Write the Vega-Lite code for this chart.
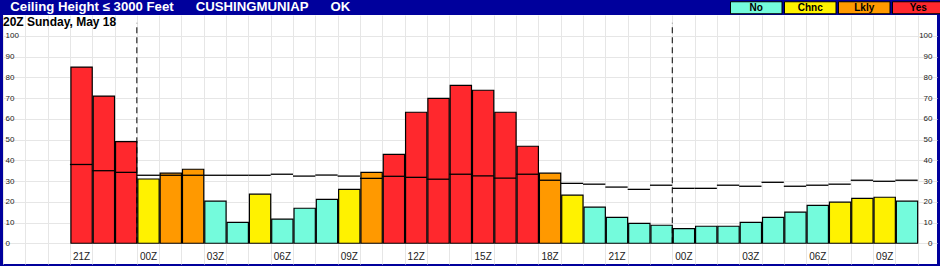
{
  "$schema": "https://vega.github.io/schema/vega-lite/v6.json",
  "width": 934,
  "height": 249,
  "autosize": {"type": "none"},
  "padding": {"left": 3, "top": 15, "right": 3, "bottom": 2},
  "background": "#00009C",
  "config": {
    "view": {"fill": "white", "stroke": null},
    "font": "Liberation Sans"
  },
  "title": {
    "text": "\u2060\u00a0\u00a0Ceiling Height ≤ 3000 Feet\u00a0\u00a0\u00a0\u00a0\u00a0\u00a0CUSHINGMUNIAP\u00a0\u00a0\u00a0\u00a0\u00a0\u00a0OK",
    "subtitle": "20Z Sunday, May 18",
    "anchor": "start",
    "frame": "group",
    "offset": -26.8,
    "color": "white",
    "font": "Liberation Sans",
    "fontSize": 13.2,
    "fontWeight": "bold",
    "subtitleColor": "black",
    "subtitleFont": "Liberation Sans",
    "subtitleFontSize": 12,
    "subtitleFontWeight": "bold",
    "subtitlePadding": 3
  },
  "data": {
    "values": [
      {"t": "2025-05-18T21:00:00Z", "p": 85, "line": 38, "cat": "Yes"},
      {"t": "2025-05-18T22:00:00Z", "p": 71, "line": 35, "cat": "Yes"},
      {"t": "2025-05-18T23:00:00Z", "p": 49, "line": 34.2, "cat": "Yes"},
      {"t": "2025-05-19T00:00:00Z", "p": 31, "line": 32.8, "cat": "Chnc"},
      {"t": "2025-05-19T01:00:00Z", "p": 33.8, "line": 32.8, "cat": "Lkly"},
      {"t": "2025-05-19T02:00:00Z", "p": 35.7, "line": 32.8, "cat": "Lkly"},
      {"t": "2025-05-19T03:00:00Z", "p": 20.3, "line": 32.8, "cat": "No"},
      {"t": "2025-05-19T04:00:00Z", "p": 10.1, "line": 32.8, "cat": "No"},
      {"t": "2025-05-19T05:00:00Z", "p": 23.7, "line": 32.8, "cat": "Chnc"},
      {"t": "2025-05-19T06:00:00Z", "p": 11.6, "line": 33.3, "cat": "No"},
      {"t": "2025-05-19T07:00:00Z", "p": 16.9, "line": 32.4, "cat": "No"},
      {"t": "2025-05-19T08:00:00Z", "p": 21.2, "line": 32.9, "cat": "No"},
      {"t": "2025-05-19T09:00:00Z", "p": 26.0, "line": 32.4, "cat": "Chnc"},
      {"t": "2025-05-19T10:00:00Z", "p": 34.2, "line": 31.3, "cat": "Lkly"},
      {"t": "2025-05-19T11:00:00Z", "p": 42.9, "line": 32.3, "cat": "Yes"},
      {"t": "2025-05-19T12:00:00Z", "p": 63.2, "line": 31.8, "cat": "Yes"},
      {"t": "2025-05-19T13:00:00Z", "p": 69.9, "line": 30.9, "cat": "Yes"},
      {"t": "2025-05-19T14:00:00Z", "p": 76.2, "line": 33.3, "cat": "Yes"},
      {"t": "2025-05-19T15:00:00Z", "p": 73.8, "line": 32.5, "cat": "Yes"},
      {"t": "2025-05-19T16:00:00Z", "p": 63.2, "line": 31.4, "cat": "Yes"},
      {"t": "2025-05-19T17:00:00Z", "p": 46.8, "line": 33.3, "cat": "Yes"},
      {"t": "2025-05-19T18:00:00Z", "p": 33.8, "line": 30.4, "cat": "Lkly"},
      {"t": "2025-05-19T19:00:00Z", "p": 23.2, "line": 28.9, "cat": "Chnc"},
      {"t": "2025-05-19T20:00:00Z", "p": 17.4, "line": 28.5, "cat": "No"},
      {"t": "2025-05-19T21:00:00Z", "p": 12.5, "line": 27.1, "cat": "No"},
      {"t": "2025-05-19T22:00:00Z", "p": 9.6, "line": 26.0, "cat": "No"},
      {"t": "2025-05-19T23:00:00Z", "p": 8.7, "line": 28.0, "cat": "No"},
      {"t": "2025-05-20T00:00:00Z", "p": 7.1, "line": 26.5, "cat": "No"},
      {"t": "2025-05-20T01:00:00Z", "p": 8.2, "line": 26.5, "cat": "No"},
      {"t": "2025-05-20T02:00:00Z", "p": 8.2, "line": 28.0, "cat": "No"},
      {"t": "2025-05-20T03:00:00Z", "p": 10.1, "line": 27.5, "cat": "No"},
      {"t": "2025-05-20T04:00:00Z", "p": 12.5, "line": 29.4, "cat": "No"},
      {"t": "2025-05-20T05:00:00Z", "p": 15.0, "line": 27.5, "cat": "No"},
      {"t": "2025-05-20T06:00:00Z", "p": 18.3, "line": 28.0, "cat": "No"},
      {"t": "2025-05-20T07:00:00Z", "p": 19.8, "line": 28.5, "cat": "Chnc"},
      {"t": "2025-05-20T08:00:00Z", "p": 21.7, "line": 30.4, "cat": "Chnc"},
      {"t": "2025-05-20T09:00:00Z", "p": 22.2, "line": 29.9, "cat": "Chnc"},
      {"t": "2025-05-20T10:00:00Z", "p": 20.3, "line": 30.4, "cat": "No"}
    ]
  },
  "layer": [
    {
      "mark": {"type": "bar", "stroke": "black", "strokeWidth": 1.2},
      "encoding": {
        "x": {
          "field": "t",
          "type": "temporal",
          "timeUnit": "utcyearmonthdatehours",
          "scale": {
            "type": "utc",
            "nice": false,
            "domain": [1747591200000, 1747741920000]
          },
          "axis": {
            "orient": "bottom",
            "values": [1747591200000, 1747594800000, 1747598400000, 1747602000000, 1747605600000, 1747609200000, 1747612800000, 1747616400000, 1747620000000, 1747623600000, 1747627200000, 1747630800000, 1747634400000, 1747638000000, 1747641600000, 1747645200000, 1747648800000, 1747652400000, 1747656000000, 1747659600000, 1747663200000, 1747666800000, 1747670400000, 1747674000000, 1747677600000, 1747681200000, 1747684800000, 1747688400000, 1747692000000, 1747695600000, 1747699200000, 1747702800000, 1747706400000, 1747710000000, 1747713600000, 1747717200000, 1747720800000, 1747724400000, 1747728000000, 1747731600000, 1747735200000, 1747738800000],
            "grid": true,
            "gridColor": "#e6e6e6",
            "labels": false,
            "ticks": false,
            "domain": false,
            "title": null
          }
        },
        "y": {
          "field": "p",
          "type": "quantitative",
          "scale": {"domain": [-10, 110.1], "nice": false, "zero": false},
          "axis": {
            "orient": "left",
            "values": [0, 10, 20, 30, 40, 50, 60, 70, 80, 90, 100],
            "grid": true,
            "gridColor": "#e6e6e6",
            "domain": false,
            "ticks": false,
            "tickSize": 0,
            "labelAlign": "left",
            "labelBaseline": "middle",
            "labelPadding": -2,
            "labelFontSize": 8,
            "labelColor": "#222222",
            "labelOverlap": false,
            "title": null
          }
        },
        "fill": {
          "field": "cat",
          "type": "nominal",
          "scale": {
            "domain": ["No", "Chnc", "Lkly", "Yes"],
            "range": ["#74FBDC", "#FFF200", "#FF9900", "#FF282D"]
          },
          "legend": {
            "orient": "none",
            "legendX": 747.75,
            "legendY": -13,
            "direction": "horizontal",
            "title": null,
            "padding": 0,
            "symbolType": "M-5.15,-1.2H5.15V1.2H-5.15Z",
            "symbolSize": 100,
            "symbolStrokeColor": "black",
            "symbolStrokeWidth": 1,
            "symbolOpacity": 1,
            "columnPadding": -3,
            "labelOffset": -5.5,
            "labelAlign": "center",
            "labelBaseline": "middle",
            "labelFont": "Liberation Sans",
            "labelFontSize": 10,
            "labelFontWeight": "bold",
            "labelColor": "black"
          }
        }
      }
    },
    {
      "mark": {"type": "tick", "orient": "horizontal", "size": 22.3, "thickness": 1.3, "color": "black", "opacity": 1},
      "encoding": {
        "x": {
          "field": "t",
          "type": "temporal",
          "timeUnit": "utcyearmonthdatehours",
          "bandPosition": 0.5,
          "axis": {
            "orient": "bottom",
            "values": [1747603800000, 1747614600000, 1747625400000, 1747636200000, 1747647000000, 1747657800000, 1747668600000, 1747679400000, 1747690200000, 1747701000000, 1747711800000, 1747722600000, 1747733400000],
            "labelExpr": "utcFormat(datum.value, '%HZ')",
            "grid": false,
            "ticks": false,
            "tickSize": 0,
            "domain": false,
            "labelPadding": -12.4,
            "labelFontSize": 10,
            "labelColor": "#222222",
            "labelFlush": false,
            "labelOverlap": false,
            "title": null
          }
        },
        "y": {
          "field": "line",
          "type": "quantitative",
          "axis": {
            "orient": "right",
            "values": [0, 10, 20, 30, 40, 50, 60, 70, 80, 90, 100],
            "grid": false,
            "domain": false,
            "ticks": false,
            "tickSize": 0,
            "labelAlign": "right",
            "labelBaseline": "middle",
            "labelPadding": -5,
            "labelFontSize": 8,
            "labelColor": "#222222",
            "labelOverlap": false,
            "title": null
          }
        }
      }
    },
    {
      "data": {"values": [{"t": "2025-05-19T00:00:00Z"}, {"t": "2025-05-20T00:00:00Z"}]},
      "mark": {"type": "rule", "color": "black", "strokeWidth": 1, "strokeDash": [6, 4]},
      "encoding": {
        "x": {"field": "t", "type": "temporal", "axis": null},
        "y": {"datum": 0, "axis": null},
        "y2": {"datum": 106.3}
      }
    }
  ],
  "resolve": {"axis": {"x": "independent", "y": "independent"}}
}
